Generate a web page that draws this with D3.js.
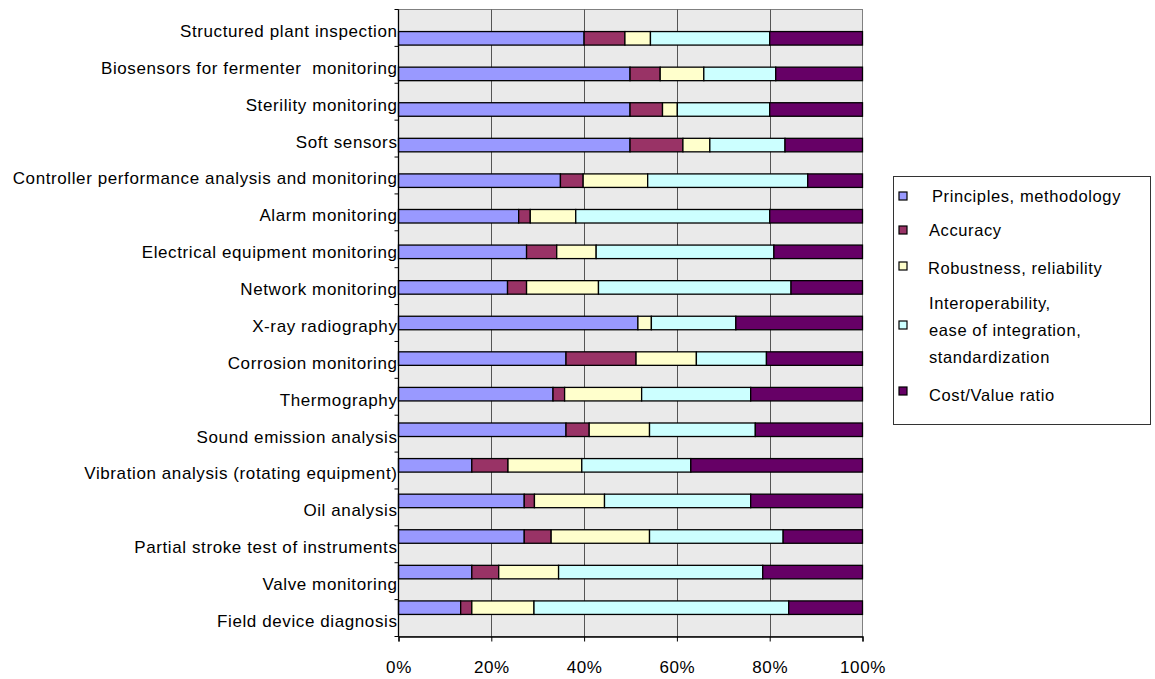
<!DOCTYPE html>
<html>
<head>
<meta charset="utf-8">
<script src="https://cdn.jsdelivr.net/npm/d3@7"></script>
<style>
  html, body { margin: 0; padding: 0; background: #fff; }
  svg { display: block; font-family: "Liberation Sans", Arial, sans-serif; }
  text { white-space: pre; }
</style>
</head>
<body>
<svg id="chart" width="1155" height="679"></svg>
<script>
// Categories, top to bottom
const categories = [
  "Structured plant inspection",
  "Biosensors for fermenter  monitoring",
  "Sterility monitoring",
  "Soft sensors",
  "Controller performance analysis and monitoring",
  "Alarm monitoring",
  "Electrical equipment monitoring",
  "Network monitoring",
  "X-ray radiography",
  "Corrosion monitoring",
  "Thermography",
  "Sound emission analysis",
  "Vibration analysis (rotating equipment)",
  "Oil analysis",
  "Partial stroke test of instruments",
  "Valve monitoring",
  "Field device diagnosis"
];

// Share of each criterion per category (percent)
const principles    = [40.0, 49.9, 49.9, 49.9, 34.9, 25.9, 27.6, 23.5, 51.6, 36.1, 33.3, 36.1, 15.8, 27.1, 27.1, 15.8, 13.4];
const accuracy      = [ 8.8,  6.5,  7.0, 11.4,  4.9,  2.5,  6.5,  4.1,  0.0, 15.1,  2.5,  5.0,  7.8,  2.2,  5.8,  5.8,  2.4];
const robustness    = [ 5.5,  9.4,  3.2,  5.8, 13.9,  9.8,  8.5, 15.5,  2.9, 13.0, 16.6, 13.0, 15.9, 15.1, 21.2, 12.9, 13.4];
const interop       = [25.7, 15.5, 19.9, 16.2, 34.5, 41.8, 38.3, 41.5, 18.2, 15.1, 23.5, 22.8, 23.5, 31.5, 28.8, 44.0, 54.9];
const costValue     = [20.0, 18.7, 20.0, 16.7, 11.8, 20.0, 19.1, 15.4, 27.3, 20.7, 24.1, 23.1, 37.0, 24.1, 17.1, 21.5, 15.9];

const seriesNames = [
  "Principles, methodology",
  "Accuracy",
  "Robustness, reliability",
  "Interoperability, ease of integration, standardization",
  "Cost/Value ratio"
];
const seriesColors = ["#9999FF", "#993366", "#FFFFCC", "#CCFFFF", "#660066"];
const xTicks = [0, 20, 40, 60, 80, 100];

const seriesValues = [principles, accuracy, robustness, interop, costValue];
const rows = categories.map((c, i) => {
  const r = { category: c };
  seriesNames.forEach((s, k) => { r[s] = seriesValues[k][i]; });
  return r;
});

const FONT_SIZE = 17;
const LETTER_SPACING = 0.6;

const svg = d3.select("#chart");
const plot = { left: 398.5, right: 862.5, top: 9.5, bottom: 636.5 };

const x = d3.scaleLinear().domain([0, 100]).range([plot.left, plot.right]);
const y = d3.scaleBand().domain(categories).range([plot.top, plot.bottom]).padding(0.62);
const yOuter = d3.scaleBand().domain(categories).range([plot.top, plot.bottom]);

// Plot background
svg.append("rect")
  .attr("x", plot.left).attr("y", plot.top)
  .attr("width", plot.right - plot.left).attr("height", plot.bottom - plot.top)
  .attr("fill", "#EAEAEA")
  .attr("stroke", "#808080").attr("stroke-width", 1);

// Vertical gridlines
svg.append("g").selectAll("line")
  .data(xTicks.slice(1, -1))
  .join("line")
  .attr("x1", d => Math.round(x(d)) + 0.5).attr("x2", d => Math.round(x(d)) + 0.5)
  .attr("y1", plot.top).attr("y2", plot.bottom)
  .attr("stroke", "#555").attr("stroke-width", 1);

// Stacked bars
const stack = d3.stack().keys(seriesNames);
const layers = stack(rows);

svg.append("g").selectAll("g")
  .data(layers)
  .join("g")
  .attr("fill", (d, i) => seriesColors[i])
  .selectAll("rect")
  .data(d => d.filter(p => p[1] - p[0] > 0))
  .join("rect")
  .attr("x", d => x(d[0]))
  .attr("y", d => y(d.data.category))
  .attr("width", d => x(d[1]) - x(d[0]))
  .attr("height", y.bandwidth())
  .attr("stroke", "#000")
  .attr("stroke-width", 1.3);

// Left axis: ticks at category boundaries
const yAxisG = svg.append("g");
yAxisG.append("line")
  .attr("x1", plot.left).attr("x2", plot.left)
  .attr("y1", plot.top).attr("y2", plot.bottom)
  .attr("stroke", "#000").attr("stroke-width", 1.3);
const boundaries = categories.map(c => yOuter(c)).concat([plot.bottom]);
yAxisG.selectAll("line.tick")
  .data(boundaries)
  .join("line")
  .attr("class", "tick")
  .attr("x1", plot.left - 4).attr("x2", plot.left)
  .attr("y1", d => d).attr("y2", d => d)
  .attr("stroke", "#000").attr("stroke-width", 1);

yAxisG.selectAll("text")
  .data(categories)
  .join("text")
  .attr("x", plot.left - 1)
  .attr("y", d => yOuter(d) + yOuter.bandwidth() / 2 + 3)
  .attr("dy", "0.35em")
  .attr("text-anchor", "end")
  .attr("font-size", FONT_SIZE)
  .attr("letter-spacing", LETTER_SPACING)
  .attr("fill", "#000")
  .text(d => d);

// Bottom axis
const xAxis = d3.axisBottom(x).tickValues(xTicks).tickFormat(d => d + "%").tickSize(5).tickPadding(19);
const xAxisG = svg.append("g")
  .attr("transform", `translate(0,${plot.bottom})`)
  .call(xAxis);
xAxisG.select(".domain").attr("stroke", "#000").attr("stroke-width", 1.3);
xAxisG.selectAll(".tick line").attr("stroke", "#000");
xAxisG.selectAll(".tick text")
  .attr("font-size", FONT_SIZE)
  .attr("letter-spacing", LETTER_SPACING)
  .attr("font-family", "Liberation Sans, Arial, sans-serif")
  .attr("fill", "#000");

// Legend
const legend = svg.append("g");
legend.append("rect")
  .attr("x", 893.5).attr("y", 176.5)
  .attr("width", 257).attr("height", 248)
  .attr("fill", "#fff").attr("stroke", "#333").attr("stroke-width", 1);

const legendItems = [
  { lines: ["Principles, methodology"], cy: 196, sy: 196, tx: 932 },
  { lines: ["Accuracy"], cy: 230, sy: 230, tx: 929 },
  { lines: ["Robustness, reliability"], cy: 268, sy: 266, tx: 928 },
  { lines: ["Interoperability,", "ease of integration,", "standardization"], cy: 330, sy: 325, tx: 929 },
  { lines: ["Cost/Value ratio"], cy: 395, sy: 391, tx: 929 }
];
const lineGap = 27;
legendItems.forEach((item, i) => {
  const g = legend.append("g");
  g.append("rect")
    .attr("x", 899).attr("y", item.sy - 4)
    .attr("width", 8).attr("height", 8)
    .attr("fill", seriesColors[i])
    .attr("stroke", "#000").attr("stroke-width", 1.2);
  const n = item.lines.length;
  item.lines.forEach((t, j) => {
    g.append("text")
      .attr("x", item.tx)
      .attr("y", item.cy + (j - (n - 1) / 2) * lineGap)
      .attr("dy", "0.35em")
      .attr("font-size", FONT_SIZE - 0.5)
      .attr("letter-spacing", LETTER_SPACING)
      .attr("fill", "#000")
      .text(t);
  });
});
</script>
</body>
</html>
